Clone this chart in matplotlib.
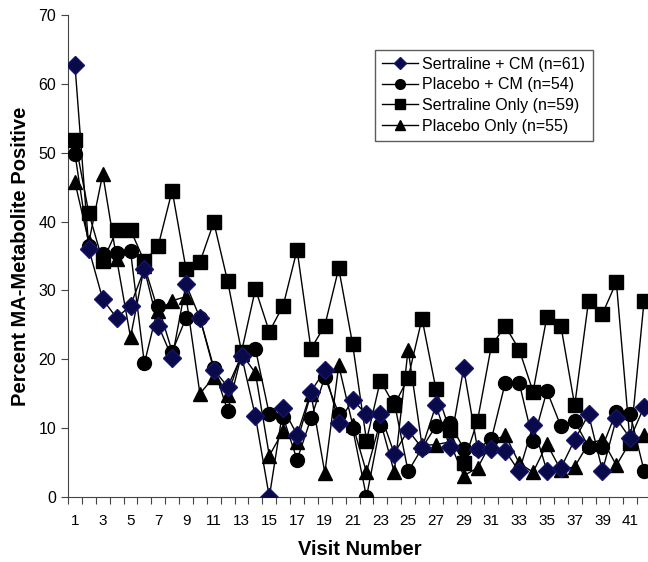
import numpy as np
import matplotlib
matplotlib.use("Agg")
import matplotlib.pyplot as plt

plt.rcParams['font.family'] = ['Liberation Sans', 'DejaVu Sans']

visits = np.arange(1, 43)

sert_cm = [62.7, 36.0, 28.7, 26.0, 27.8, 33.1, 24.9, 20.2, 30.9, 26.0,
           18.5, 16.0, 20.5, 11.7, 0.0, 12.9, 9.0, 15.3, 18.4, 10.8,
           14.1, 12.0, 12.1, 6.3, 9.7, 7.1, 13.3, 7.3, 18.7, 7.0,
           6.9, 6.7, 3.7, 10.4, 3.8, 4.2, 8.3, 12.0, 3.8, 11.4,
           8.5, 13.1]
plac_cm = [49.8, 36.4, 35.3, 35.5, 35.7, 19.4, 27.7, 21.1, 26.0, 26.0,
           18.8, 12.5, 20.7, 21.5, 12.0, 11.6, 5.4, 11.4, 17.4, 12.1,
           10.0, 0.0, 10.4, 13.8, 3.7, 7.1, 10.3, 10.8, 7.0, 7.0,
           8.4, 16.6, 16.6, 8.1, 15.4, 10.3, 11.0, 7.3, 7.3, 12.4,
           12.0, 3.8]
sert_only = [51.8, 41.2, 34.2, 38.7, 38.8, 34.2, 36.5, 44.5, 33.1, 34.1,
             39.9, 31.3, 21.1, 30.2, 24.0, 27.8, 35.9, 21.5, 24.9, 33.2,
             22.2, 8.2, 16.9, 13.3, 17.3, 25.9, 15.7, 9.7, 4.9, 11.1,
             22.0, 24.8, 21.4, 15.3, 26.2, 24.9, 13.3, 28.5, 26.6, 31.2,
             7.8, 28.5]
plac_only = [45.7, 37.0, 46.9, 34.6, 23.2, 33.5, 27.0, 28.5, 29.1, 15.0,
             17.4, 14.8, 20.8, 18.0, 6.0, 9.6, 8.0, 15.0, 3.5, 19.1,
             10.5, 3.6, 11.0, 3.6, 21.4, 7.5, 7.6, 8.0, 3.1, 4.2,
             8.0, 9.0, 4.9, 3.6, 7.7, 3.9, 4.4, 7.8, 8.3, 4.6,
             8.0, 9.0]

labels = ['Sertraline + CM (n=61)', 'Placebo + CM (n=54)',
          'Sertraline Only (n=59)', 'Placebo Only (n=55)']

fig = plt.figure(figsize=(6.48, 5.62), dpi=100)
ax = fig.add_axes([0.105, 0.1157, 0.8997, 0.8577])

ax.plot(visits, sert_cm, color='black', lw=1, marker='D', ms=9,
        mfc='#0a0a4a', mec='#14146e', label=labels[0], zorder=5)
ax.plot(visits, plac_cm, color='black', lw=1, marker='o', ms=10,
        mfc='black', mec='black', label=labels[1], zorder=4)
ax.plot(visits, sert_only, color='black', lw=1, marker='s', ms=10,
        mfc='black', mec='black', label=labels[2], zorder=3)
ax.plot(visits, plac_only, color='black', lw=1, marker='^', ms=10,
        mfc='black', mec='black', label=labels[3], zorder=3)

ax.set_xlim(0.5, 42.5)
ax.set_ylim(0, 70)

# tick marks between categories, labels on odd visits
ax.set_xticks(np.arange(0.5, 43, 1))
ax.set_xticklabels([])
ax.set_xticks(np.arange(1, 43, 2), minor=True)
ax.set_xticklabels([str(v) for v in range(1, 43, 2)], minor=True, fontsize=11)
ax.tick_params(axis='x', which='minor', length=0, pad=12)
ax.tick_params(axis='x', which='major', length=5, direction='out', color='#444444')

ax.set_yticks(np.arange(0, 71, 10))
ax.tick_params(axis='y', length=5, direction='out', color='#444444', labelsize=11.5)

for s in ['top', 'right']:
    ax.spines[s].set_visible(False)
for s in ['left', 'bottom']:
    ax.spines[s].set_color('#444444')

ax.set_xlabel('Visit Number', fontsize=14.5, fontweight='bold', labelpad=9)
ax.set_ylabel('Percent MA-Metabolite Positive', fontsize=14.5, fontweight='bold', labelpad=6)

leg = ax.legend(loc='upper left', bbox_to_anchor=(0.527, 0.928), fontsize=11.5,
                frameon=True, fancybox=False, edgecolor='#333333',
                handlelength=2.2, markerscale=0.7, borderpad=0.45,
                labelspacing=0.35, handletextpad=0.3, borderaxespad=0)
leg.get_frame().set_linewidth(1)

fig.savefig('out.png', dpi=100)
